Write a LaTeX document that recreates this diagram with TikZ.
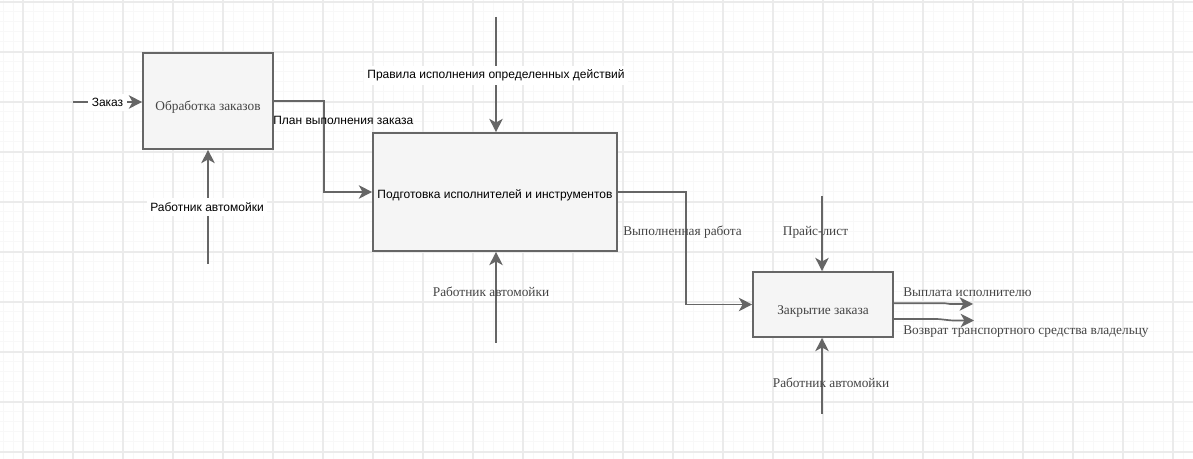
\documentclass[tikz,border=0pt]{standalone}
\usepackage{fontspec}
\setmainfont{Liberation Serif}
\newfontfamily\lsans{Liberation Sans}
\usetikzlibrary{arrows.meta}
\definecolor{lineg}{HTML}{666666}
\definecolor{boxfill}{HTML}{F5F5F5}
\definecolor{gmaj}{HTML}{EBEBEB}
\definecolor{gmin}{HTML}{F8F8F8}
\definecolor{sertext}{HTML}{444444}
\tikzset{
  idefbox/.style={draw=lineg, fill=boxfill, line width=1.2pt, inner sep=0pt},
  flow/.style={draw=lineg, line width=1.25pt, -{Stealth[length=10pt,width=10pt,inset=2.8pt]}},
  sanslbl/.style={font=\lsans\fontsize{9pt}{11pt}\selectfont, text=black, inner sep=1pt},
  seriflbl/.style={font=\fontsize{10pt}{12pt}\selectfont, text=sertext, inner sep=1pt},
  wbg/.style={fill=white, inner xsep=2.5pt, inner ysep=3pt},
}
\begin{document}
\begin{tikzpicture}[x=0.75pt,y=-0.75pt]
\useasboundingbox (0,0) rectangle (1193,459);
\fill[white] (0,0) rectangle (1193,459);
% grid
\foreach \x in {3,13,...,1193} \draw[gmin,line width=0.75pt] (\x,0) -- (\x,459);
\foreach \y in {2,12,...,459} \draw[gmin,line width=0.75pt] (0,\y) -- (1193,\y);
\foreach \x in {23,73,...,1193} \draw[gmaj,line width=0.9pt] (\x,0) -- (\x,459);
\foreach \y in {2,52,...,459} \draw[gmaj,line width=0.9pt] (0,\y) -- (1193,\y);

% boxes
\node[idefbox, minimum width=97.5pt, minimum height=72pt,
  label={[name=t1, seriflbl, yshift=-4.3pt]center:Обработка заказов}] (b1) at (208,101) {};
\node[idefbox, minimum width=183pt, minimum height=88.5pt,
  label={[name=t2, sanslbl, yshift=-2.2pt]center:Подготовка исполнителей и инструментов}] (b2) at (495,192) {};
\node[idefbox, minimum width=105pt, minimum height=48.75pt,
  label={[name=t3, seriflbl, yshift=-5.6pt]center:Закрытие заказа}] (b3) at (823,304.5) {};

% free ends
\coordinate (zin) at (73,102);
\coordinate (w1) at (208,264);
\coordinate (ctl) at (496,17);
\coordinate (w2) at (496,343);
\coordinate (price) at (822,196);
\coordinate (w3) at (822,414);
\coordinate (o1) at (973,304);
\coordinate (o2) at (974,320.5);

% connectors
\draw[flow] (zin) -- (zin -| b1.west);
\draw[flow] (w1) -- (b1.south);
\draw[flow] (b1.east) -- ++(50,0) |- (b2.west);
\draw[flow] (ctl) -- (ctl |- b2.north);
\draw[flow] (w2) -- (w2 |- b2.south);
\draw[flow] (b2.east) -- ++(68,0) |- (b3.west);
\draw[flow] (price) -- (price |- b3.north);
\draw[flow] (w3) -- (w3 |- b3.south);
\draw[flow] (b3.east |- 0,303.3) -- (945,303.3) -- (950,304) -- (o1);
\draw[flow] (b3.east |- 0,319) -- (935,319) to[out=0,in=180] (955,320.5) -- (o2);

% labels
\node[sanslbl, wbg] (lz) at (107.5,102.5) {Заказ};
\node[sanslbl, wbg] (lw1) at (207,207) {Работник автомойки};
\node[sanslbl, anchor=west, inner sep=0pt] (lplan) at (273,120) {План выполнения заказа};
\node[sanslbl, wbg] (lrules) at (496,75.5) {Правила исполнения определенных действий};
\node[seriflbl, anchor=west, inner sep=0pt] (ldone) at (623,232) {Выполненная работа};
\node[seriflbl] (lw2) at (491,292) {Работник автомойки};
\node[seriflbl] (lprice) at (815.5,232) {Прайс-лист};
\node[seriflbl] (lw3) at (831,383) {Работник автомойки};
\node[seriflbl, anchor=west, inner sep=0pt] (lpay) at (903,292) {Выплата исполнителю};
\node[seriflbl, anchor=west, inner sep=0pt] (lret) at (903,332) {Возврат транспортного средства владельцу};
\end{tikzpicture}
\end{document}
